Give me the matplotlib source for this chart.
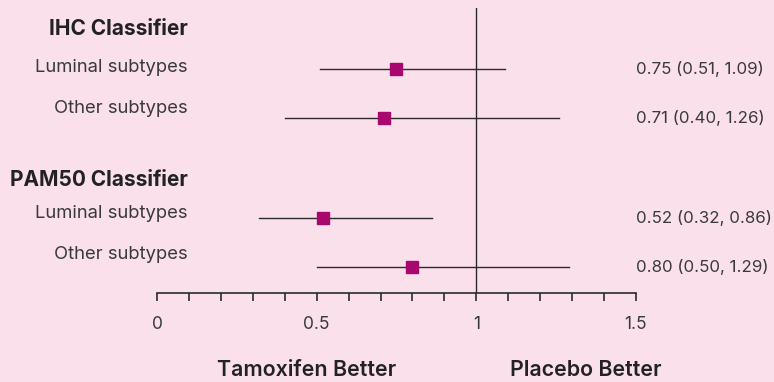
import matplotlib.pyplot as plt

# data
groups = ['IHC Classifier', 'PAM50 Classifier']
subtypes = ['Luminal subtypes', 'Other subtypes', 'Luminal subtypes', 'Other subtypes']
hr = [0.75, 0.71, 0.52, 0.80]
ci_low = [0.51, 0.40, 0.32, 0.50]
ci_high = [1.09, 1.26, 0.86, 1.29]

# layout (row units, 1 row ~ 49.5 px)
rows = [1, 2, 4, 5]
label_rows = [0.96, 1.79, 3.91, 4.74]
group_rows = [0.19, 3.24]

bg = '#FAE0EB'
ink = '#2b2b2b'
marker_col = '#A8076E'
txt = '#3a3a3a'

plt.rcParams['font.family'] = ['Inter', 'DejaVu Sans']

fig = plt.figure(figsize=(7.74, 3.82), dpi=100, facecolor=bg)
ax = fig.add_axes([157 / 774, (382 - 293) / 382, (636 - 157) / 774, (293 - 8) / 382])
ax.set_facecolor(bg)
ax.set_xlim(0, 1.5)
ax.set_ylim(5.525, -0.232)

for s in ['top', 'right', 'left']:
    ax.spines[s].set_visible(False)
ax.spines['bottom'].set_color(ink)
ax.spines['bottom'].set_linewidth(1.2)
ax.set_yticks([])

ticks = [i / 10 for i in range(16)]
tick_names = {0: '0', 5: '0.5', 10: '1', 15: '1.5'}
ax.set_xticks(ticks)
ax.set_xticklabels([tick_names.get(i, '') for i in range(16)])
ax.tick_params(axis='x', direction='out', length=5.5, width=1.2, color=ink,
               labelsize=12.5, labelcolor=txt, pad=11)

ax.axvline(1, color=ink, lw=1)

for r, h, lo, hi in zip(rows, hr, ci_low, ci_high):
    ax.plot([lo, hi], [r, r], color=ink, lw=1, zorder=2)
    ax.plot(h, r, marker='s', markersize=9, color=marker_col, zorder=3)
    ax.text(1.5, r, f'{h:.2f} ({lo:.2f}, {hi:.2f})', ha='left', va='center',
            fontsize=12.2, color=txt, clip_on=False)

for r, name in zip(label_rows, subtypes):
    ax.text(0.097, r, name, ha='right', va='center', fontsize=13.3,
            color=txt, clip_on=False)

for r, name in zip(group_rows, groups):
    ax.text(0.097, r, name, ha='right', va='center', fontsize=15,
            fontweight='bold', color='#222222', clip_on=False)

fig.text(307 / 774, 1 - 370 / 382, 'Tamoxifen Better', ha='center', va='center',
         fontsize=15.4, fontweight='semibold', color='#222222')
fig.text(586 / 774, 1 - 370 / 382, 'Placebo Better', ha='center', va='center',
         fontsize=15.4, fontweight='semibold', color='#222222')

fig.savefig('out.png', dpi=100, facecolor=bg)
